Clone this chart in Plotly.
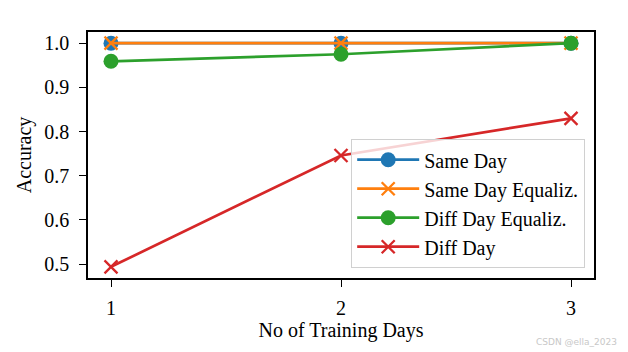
import plotly.graph_objects as go

days = [1, 2, 3]
same_day = [1.0, 1.0, 1.0]
same_day_eq = [1.0, 1.0, 1.0]
diff_day_eq = [0.959, 0.975, 1.0]
diff_day = [0.494, 0.746, 0.830]

names = ["Same Day", "Same Day Equaliz.", "Diff Day Equaliz.", "Diff Day"]
colors = ["#1f77b4", "#ff7f0e", "#2ca02c", "#d62728"]
series = [same_day, same_day_eq, diff_day_eq, diff_day]
symbols = ["circle", "x-thin", "circle", "x-thin"]

fig = go.Figure()
for n, c, s, sym in zip(names, colors, series, symbols):
    if sym == "circle":
        marker = dict(symbol="circle", size=15, color=c, line=dict(width=0))
    else:
        marker = dict(symbol="x-thin", size=13, color=c, line=dict(width=2.3, color=c))
    fig.add_trace(go.Scatter(x=days, y=s, mode="lines+markers", name=n,
                             line=dict(color=c, width=2.7), marker=marker))

font = "Liberation Serif"
fs = 20
axis_common = dict(showgrid=False, zeroline=False, showline=True, linecolor="black",
                   linewidth=1.5, mirror=True, ticks="outside", ticklen=7, tickwidth=1.3,
                   tickcolor="black", tickfont=dict(size=fs, family=font))
fig.update_layout(
    width=628, height=352,
    margin=dict(l=88, r=34, t=32, b=74),
    paper_bgcolor="white", plot_bgcolor="white",
    font=dict(family=font, size=fs, color="black"),
    showlegend=True,
    legend=dict(x=0.982, y=0.041, xanchor="right", yanchor="bottom",
                bordercolor="#d0d0d0", borderwidth=1.3, bgcolor="rgba(255,255,255,0.8)",
                font=dict(size=fs, family=font), tracegroupgap=0, itemwidth=62),
    xaxis=dict(range=[0.9, 3.1], tickvals=days, ticktext=["1", "2", "3"],
               ticklabelstandoff=4,
               title=dict(text="No of Training Days", standoff=5,
                          font=dict(size=fs, family=font)), **axis_common),
    yaxis=dict(range=[0.4687, 1.0253], tickvals=[0.5, 0.6, 0.7, 0.8, 0.9, 1.0],
               ticktext=["0.5", "0.6", "0.7", "0.8", "0.9", "1.0"],
               ticklabelstandoff=6,
               title=dict(text="Accuracy", standoff=7,
                          font=dict(size=fs, family=font)), **axis_common),
    annotations=[dict(text="CSDN @ella_2023", x=1.05, y=-0.23, xref="paper", yref="paper",
                      showarrow=False, font=dict(family="DejaVu Sans", size=9, color="#c8c8c8"),
                      xanchor="right", yanchor="top")]
)
fig.write_html("out.html")
